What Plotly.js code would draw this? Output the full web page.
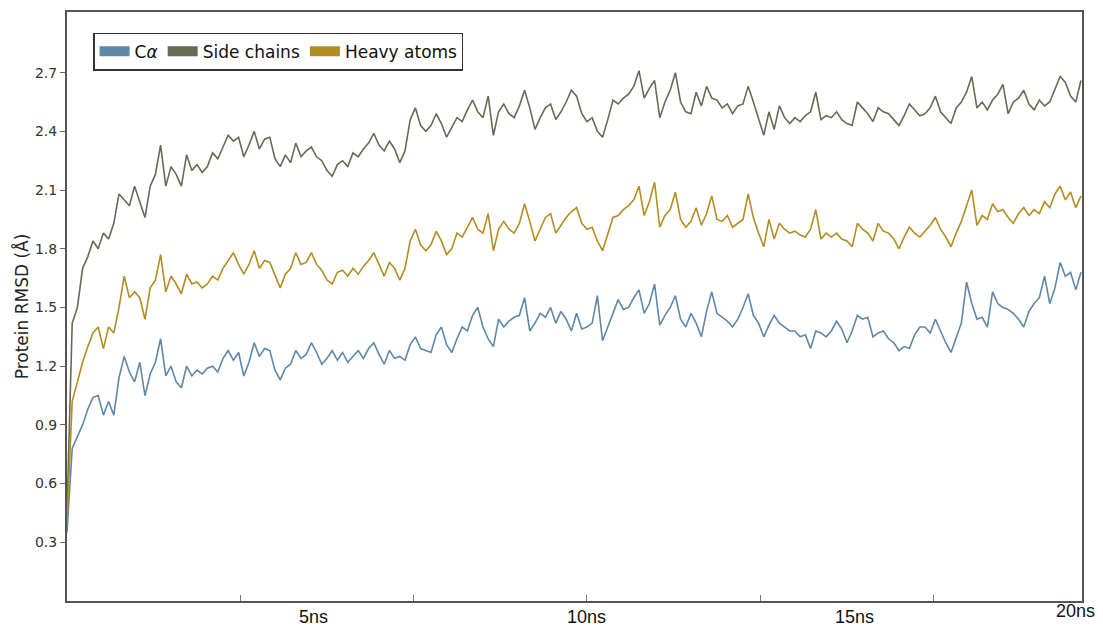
<!DOCTYPE html>
<html>
<head>
<meta charset="utf-8">
<script src="https://cdn.plot.ly/plotly-3.0.1.min.js"></script>
<style>
html,body{margin:0;padding:0;background:#fff;}
#chart{width:1103px;height:628px;}
</style>
</head>
<body>
<div id="chart"></div>
<script>
// Simulation time (ns)
const timeNs = [0,0.1,0.2,0.3,0.4,0.5,0.6,0.7,0.8,0.9,1,1.1,1.2,1.3,1.4,1.5,1.6,1.7,1.8,1.9,2,2.1,2.2,2.3,2.4,2.5,2.6,2.7,2.8,2.9,3,3.1,3.2,3.3,3.4,3.5,3.6,3.7,3.8,3.9,4,4.1,4.2,4.3,4.4,4.5,4.6,4.7,4.8,4.9,5,5.1,5.2,5.3,5.4,5.5,5.6,5.7,5.8,5.9,6,6.1,6.2,6.3,6.4,6.5,6.6,6.7,6.8,6.9,7,7.1,7.2,7.3,7.4,7.5,7.6,7.7,7.8,7.9,8,8.1,8.2,8.3,8.4,8.5,8.6,8.7,8.8,8.9,9,9.1,9.2,9.3,9.4,9.5,9.6,9.7,9.8,9.9,10,10.1,10.2,10.3,10.4,10.5,10.6,10.7,10.8,10.9,11,11.1,11.2,11.3,11.4,11.5,11.6,11.7,11.8,11.9,12,12.1,12.2,12.3,12.4,12.5,12.6,12.7,12.8,12.9,13,13.1,13.2,13.3,13.4,13.5,13.6,13.7,13.8,13.9,14,14.1,14.2,14.3,14.4,14.5,14.6,14.7,14.8,14.9,15,15.1,15.2,15.3,15.4,15.5,15.6,15.7,15.8,15.9,16,16.1,16.2,16.3,16.4,16.5,16.6,16.7,16.8,16.9,17,17.1,17.2,17.3,17.4,17.5,17.6,17.7,17.8,17.9,18,18.1,18.2,18.3,18.4,18.5,18.6,18.7,18.8,18.9,19,19.1,19.2,19.3,19.4,19.5];

const rmsdSideChains = [
0.45,1.42,1.50,1.70,1.76,1.84,1.80,1.88,1.85,1.93,
2.08,2.05,2.02,2.12,2.04,1.96,2.12,2.18,2.33,2.12,
2.22,2.18,2.12,2.28,2.20,2.23,2.19,2.22,2.29,2.26,
2.32,2.38,2.35,2.37,2.27,2.33,2.40,2.31,2.36,2.37,
2.26,2.22,2.28,2.24,2.34,2.27,2.30,2.32,2.27,2.25,
2.20,2.17,2.23,2.25,2.22,2.29,2.27,2.31,2.34,2.39,
2.33,2.30,2.35,2.31,2.24,2.30,2.46,2.52,2.43,2.40,
2.43,2.49,2.44,2.37,2.42,2.47,2.45,2.51,2.56,2.50,
2.47,2.58,2.38,2.50,2.54,2.49,2.47,2.53,2.61,2.52,
2.41,2.47,2.52,2.54,2.46,2.50,2.55,2.61,2.58,2.49,
2.45,2.47,2.40,2.37,2.46,2.56,2.54,2.57,2.59,2.63,
2.71,2.57,2.62,2.66,2.47,2.55,2.61,2.70,2.55,2.50,
2.49,2.60,2.53,2.63,2.57,2.56,2.52,2.54,2.49,2.53,
2.54,2.63,2.55,2.46,2.38,2.50,2.41,2.53,2.47,2.44,
2.47,2.45,2.48,2.50,2.60,2.46,2.48,2.47,2.50,2.46,
2.44,2.43,2.55,2.52,2.49,2.45,2.52,2.50,2.49,2.46,
2.43,2.48,2.54,2.51,2.48,2.49,2.52,2.58,2.50,2.47,
2.44,2.52,2.55,2.60,2.68,2.52,2.55,2.51,2.56,2.59,
2.64,2.49,2.55,2.57,2.61,2.54,2.51,2.56,2.53,2.55,
2.62,2.68,2.65,2.58,2.55,2.66];

const rmsdHeavy = [
0.40,1.02,1.12,1.22,1.30,1.37,1.40,1.29,1.40,1.37,
1.50,1.66,1.55,1.58,1.55,1.44,1.60,1.64,1.77,1.58,
1.66,1.62,1.57,1.67,1.62,1.63,1.60,1.62,1.66,1.64,
1.70,1.74,1.78,1.72,1.67,1.72,1.79,1.70,1.74,1.73,
1.66,1.60,1.67,1.70,1.78,1.72,1.73,1.78,1.72,1.69,
1.64,1.62,1.68,1.69,1.66,1.70,1.67,1.71,1.74,1.78,
1.72,1.66,1.73,1.70,1.64,1.70,1.84,1.90,1.82,1.79,
1.82,1.89,1.84,1.77,1.80,1.88,1.86,1.91,1.96,1.90,
1.88,1.98,1.79,1.90,1.94,1.90,1.88,1.93,2.03,1.94,
1.84,1.90,1.96,1.98,1.88,1.92,1.96,1.99,2.01,1.93,
1.90,1.91,1.84,1.79,1.88,1.96,1.97,2.00,2.02,2.05,
2.12,1.97,2.04,2.14,1.91,1.97,2.00,2.09,1.95,1.91,
1.94,2.01,1.92,1.98,2.07,1.95,1.94,1.97,1.91,1.93,
1.95,2.08,1.96,1.88,1.81,1.95,1.85,1.93,1.90,1.88,
1.89,1.87,1.86,1.90,2.00,1.85,1.88,1.86,1.88,1.85,
1.84,1.81,1.93,1.90,1.88,1.84,1.93,1.89,1.88,1.85,
1.80,1.86,1.91,1.88,1.86,1.89,1.92,1.96,1.90,1.86,
1.81,1.88,1.94,2.02,2.10,1.92,1.97,1.95,2.03,1.99,
2.00,1.96,1.93,1.98,2.01,1.97,2.00,1.98,2.04,2.01,
2.08,2.12,2.05,2.09,2.01,2.07];

const rmsdCa = [
0.35,0.78,0.84,0.90,0.98,1.04,1.05,0.95,1.02,0.95,
1.14,1.25,1.17,1.12,1.22,1.05,1.16,1.22,1.34,1.15,
1.20,1.12,1.09,1.20,1.15,1.18,1.16,1.19,1.20,1.17,
1.24,1.28,1.23,1.27,1.15,1.22,1.32,1.25,1.29,1.28,
1.18,1.13,1.19,1.21,1.28,1.24,1.26,1.32,1.27,1.21,
1.24,1.28,1.23,1.27,1.22,1.25,1.28,1.24,1.29,1.32,
1.26,1.21,1.28,1.24,1.25,1.23,1.31,1.35,1.29,1.28,
1.27,1.36,1.40,1.31,1.27,1.34,1.40,1.38,1.46,1.50,
1.40,1.34,1.30,1.44,1.40,1.43,1.45,1.46,1.55,1.38,
1.42,1.47,1.45,1.50,1.42,1.48,1.44,1.38,1.47,1.39,
1.40,1.42,1.56,1.33,1.40,1.46,1.54,1.49,1.50,1.55,
1.59,1.47,1.52,1.62,1.41,1.46,1.50,1.56,1.44,1.40,
1.47,1.42,1.35,1.48,1.58,1.47,1.45,1.43,1.40,1.44,
1.50,1.57,1.46,1.42,1.35,1.41,1.46,1.42,1.40,1.38,
1.38,1.35,1.36,1.29,1.38,1.37,1.35,1.38,1.43,1.39,
1.32,1.38,1.46,1.44,1.45,1.35,1.37,1.38,1.34,1.32,
1.28,1.30,1.29,1.36,1.40,1.40,1.37,1.44,1.38,1.32,
1.27,1.35,1.42,1.63,1.52,1.44,1.45,1.40,1.58,1.52,
1.50,1.49,1.47,1.44,1.40,1.48,1.52,1.55,1.66,1.52,
1.60,1.73,1.66,1.68,1.59,1.68];

const seriesNames = ['C<i>\u03b1</i>', 'Side chains', 'Heavy atoms'];
const yTickVals = [0.3, 0.6, 0.9, 1.2, 1.5, 1.8, 2.1, 2.4, 2.7];
const yTickText = ['0.3', '0.6', '0.9', '1.2', '1.5', '1.8', '2.1', '2.4', '2.7'];
const xLabelText = ['5ns', '10ns', '15ns', '20ns'];
const xLabelAt = [4.75, 10.0, 15.15, 19.4];

const colors = ['#5d88a8', '#6a6a52', '#b38c22'];
const seriesData = [rmsdCa, rmsdSideChains, rmsdHeavy];

const traces = [];
seriesData.forEach((ys, k) => {
  traces.push({
    x: timeNs, y: ys, type: 'scatter', mode: 'lines',
    line: {color: colors[k], width: 1.6},
    showlegend: false, hoverinfo: 'skip'
  });
});
// legend-only entries with block swatches
seriesNames.forEach((nm, k) => {
  traces.push({
    x: [null], y: [null], type: 'scatter', mode: 'lines', name: nm,
    line: {color: colors[k], width: 10}, showlegend: true
  });
});

const annotations = xLabelText.map((t, i) => ({
  x: xLabelAt[i], xref: 'x', y: 0, yref: 'paper',
  text: t, showarrow: false, xanchor: 'center', yanchor: 'middle',
  yshift: (i === 3 ? -10 : -16),
  font: {family: 'Liberation Sans, Arial, sans-serif', size: 18, color: '#111'}
}));

const layout = {
  width: 1103, height: 628,
  margin: {l: 67, r: 21, t: 12, b: 27, pad: 0},
  paper_bgcolor: '#fff', plot_bgcolor: '#fff',
  font: {family: 'DejaVu Sans, sans-serif', color: '#333'},
  xaxis: {
    range: [0, 19.52], showgrid: false, zeroline: false,
    showline: true, linecolor: '#555', linewidth: 2, mirror: true,
    tickvals: [10/3, 20/3, 10, 40/3, 50/3], ticks: 'inside', ticklen: 6,
    tickcolor: '#777', tickwidth: 1, showticklabels: false
  },
  yaxis: {
    range: [0, 3.01], showgrid: false, zeroline: false,
    showline: true, linecolor: '#555', linewidth: 2, mirror: true,
    tickvals: yTickVals, ticktext: yTickText, ticks: 'outside', ticklen: 5,
    tickcolor: '#666', tickwidth: 1,
    tickfont: {family: 'DejaVu Sans, sans-serif', size: 14, color: '#333'},
    title: {text: 'Protein RMSD (\u00c5)', standoff: 2,
      font: {family: 'DejaVu Sans, sans-serif', size: 17, color: '#222'}},
    automargin: false
  },
  showlegend: true,
  legend: {
    orientation: 'h', x: 0.026, y: 0.965, xanchor: 'left', yanchor: 'top',
    bgcolor: '#fff', bordercolor: '#333', borderwidth: 1.2,
    font: {family: 'DejaVu Sans, sans-serif', size: 17, color: '#111'},
    itemwidth: 30, tracegroupgap: 0
  },
  annotations: annotations
};

Plotly.newPlot('chart', traces, layout, {displayModeBar: false, staticPlot: true});
</script>
</body>
</html>
